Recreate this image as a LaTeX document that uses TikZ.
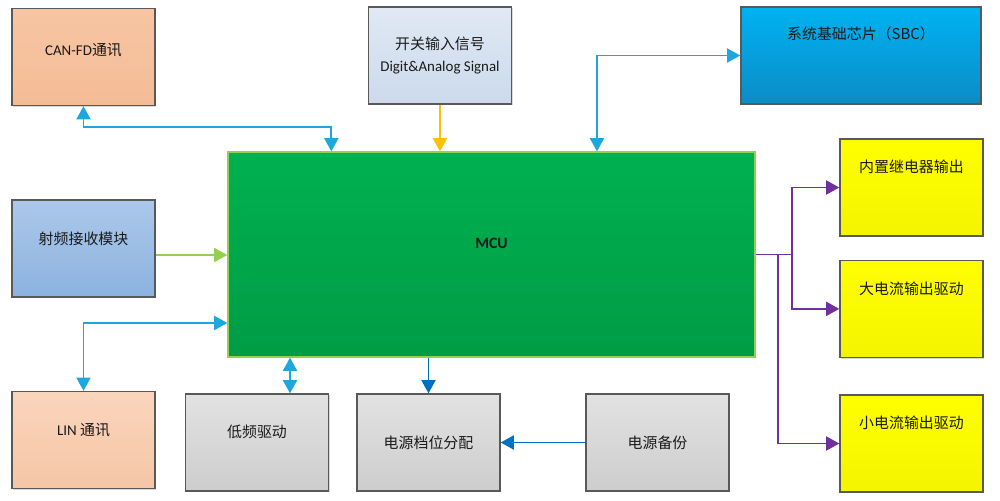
\documentclass[tikz,border=0pt]{standalone}
\usepackage{fontspec}
\setmainfont{Carlito}
\newfontfamily\cjk{Noto Sans CJK SC}
\usepackage{tikz}
\usetikzlibrary{arrows.meta,positioning,shadows}
\definecolor{rim}{HTML}{595959}
\definecolor{ink}{HTML}{1A1A1A}
\definecolor{cyanline}{HTML}{1EA6E0}
\definecolor{orangeline}{HTML}{FFC000}
\definecolor{greenline}{HTML}{92D050}
\definecolor{blueline}{HTML}{0070C0}
\definecolor{purpleline}{HTML}{7030A0}
\definecolor{HTML-F7C5A3}{HTML}{F7C5A3}
\definecolor{HTML-F4BC96}{HTML}{F4BC96}
\definecolor{HTML-FAD5BC}{HTML}{FAD5BC}
\definecolor{HTML-F5C6A6}{HTML}{F5C6A6}
\definecolor{HTML-E0E9F4}{HTML}{E0E9F4}
\definecolor{HTML-CCDAEC}{HTML}{CCDAEC}
\definecolor{HTML-00B2F2}{HTML}{00B2F2}
\definecolor{HTML-0B8CC6}{HTML}{0B8CC6}
\definecolor{HTML-ABC8E9}{HTML}{ABC8E9}
\definecolor{HTML-8CB2E0}{HTML}{8CB2E0}
\definecolor{HTML-FFFF00}{HTML}{FFFF00}
\definecolor{HTML-F4F400}{HTML}{F4F400}
\definecolor{HTML-E2E2E2}{HTML}{E2E2E2}
\definecolor{HTML-CDCDCD}{HTML}{CDCDCD}
\definecolor{HTML-92D050}{HTML}{92D050}
\definecolor{HTML-00B150}{HTML}{00B150}
\definecolor{HTML-009C45}{HTML}{009C45}
\tikzset{
    %Define standard arrow tip
    >={Triangle[length=7.5pt,width=8pt]},
    every label/.style={font=\fontsize{8.5}{13}\selectfont, text=ink},
    %Define style for boxes
    block/.style={
   	rectangle,
   	draw=rim, line width=0.8pt,
   	minimum width=2.86cm,
   	minimum height=1.94cm,
   	drop shadow={opacity=0.3, shadow xshift=0.8pt, shadow yshift=-0.8pt}
   },
   peach/.style={block, top color=HTML-F7C5A3, bottom color=HTML-F4BC96},
   peachlight/.style={block, top color=HTML-FAD5BC, bottom color=HTML-F5C6A6},
   pale/.style={block, top color=HTML-E0E9F4, bottom color=HTML-CCDAEC},
   sky/.style={block, top color=HTML-00B2F2, bottom color=HTML-0B8CC6},
   steel/.style={block, top color=HTML-ABC8E9, bottom color=HTML-8CB2E0},
   lemon/.style={block, top color=HTML-FFFF00, bottom color=HTML-F4F400},
   grey/.style={block, top color=HTML-E2E2E2, bottom color=HTML-CDCDCD},
   mcu/.style={
   	rectangle,
   	draw=HTML-92D050, line width=0.8pt,
   	minimum width=10.54cm,
   	minimum height=4.1cm,
   	top color=HTML-00B150, bottom color=HTML-009C45
   },
    % Define arrow style
    pil/.style={
           line width=1pt},
}
\begin{document}
\begin{tikzpicture}[x=0.02cm,y=-0.02cm,pil]
\useasboundingbox (0,0) rectangle (1000,500);
%nodes
\node[mcu, label={[yshift=0.23cm,font=\fontsize{9}{10}\selectfont\bfseries]center:MCU}](4) at (491.5,254.5){};
\node[peach, label={[yshift=0.14cm]center:CAN-FD{\cjk 通讯}}](1) at (83.5,57){};
\node[pale, label={[align=center]center:{{\cjk 开关输入信号}\\Digit\&Analog Signal}}](2) at (440,55.5){};
\node[sky, minimum width=4.8cm, label={[yshift=0.44cm]center:{\cjk 系统基础芯片（SBC）}}](3) at (861,55.5){};
\node[lemon, label={[yshift=0.41cm]center:{\cjk 内置继电器输出}}](5) at (911.5,187.5){};
\node[lemon, below=0.46cm of 5, label={[yshift=0.41cm]center:{\cjk 大电流输出驱动}}](6){};
\node[lemon, label={[yshift=0.41cm]center:{\cjk 小电流输出驱动}}](7) at (911.5,443.5){};
\node[steel, label={[yshift=0.19cm]center:{\cjk 射频接收模块}}](8) at (83.5,248.5){};
\node[peachlight, label={[yshift=0.2cm]center:LIN {\cjk 通讯}}](9) at (83.5,440){};
\node[grey, label={[yshift=0.21cm]center:{\cjk 低频驱动}}](10) at (257,442.5){};
\node[grey, label={center:{\cjk 电源档位分配}}](11) at (428.5,442.5){};
\node[grey, label={center:{\cjk 电源备份}}](12) at (657.5,442.5){};
%edges
\draw[<->, cyanline] (1.south) -- ++(0,21) -| ([xshift=2.08cm]4.north west);
\draw[->, orangeline] (2.south) -- (2.south |- 4.north);
\draw[<->, cyanline] ([xshift=2.11cm]4.north) |- (3.west);
\draw[->, greenline] ([yshift=-0.13cm]8.east) -- ([yshift=-0.13cm]8.east -| 4.west);
\draw[<->, cyanline] ([yshift=-1.37cm]4.west) -| (9.north);
\draw[<->, cyanline] ([xshift=0.66cm]10.north |- 4.south) -- ([xshift=0.66cm]10.north);
\draw[->, blueline] (11.north |- 4.south) -- (11.north);
\draw[->, blueline] (12.west) -- (11.east);
\draw[->, purpleline] (4.east) -- ([xshift=0.72cm]4.east) |- (5.west);
\draw[->, purpleline] ([xshift=0.72cm]4.east) |- (6.west);
\draw[->, purpleline] ([xshift=0.44cm]4.east) |- (7.west);
\end{tikzpicture}
\end{document}
